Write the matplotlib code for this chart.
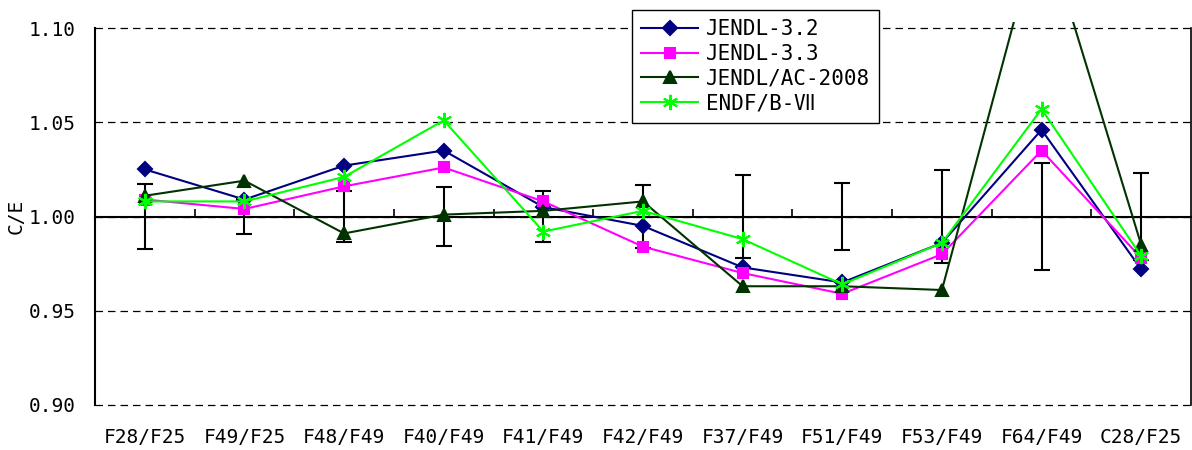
import matplotlib
matplotlib.use("Agg")
import matplotlib.pyplot as plt
import numpy as np
from matplotlib.patches import Rectangle
from matplotlib.ticker import FixedLocator, FormatStrFormatter

plt.rcParams['font.family'] = ['DejaVu Sans Mono', 'Noto Sans CJK JP']

# Reaction-rate ratios and C/E results for each library
ratios = ["F28/F25", "F49/F25", "F48/F49", "F40/F49", "F41/F49", "F42/F49",
          "F37/F49", "F51/F49", "F53/F49", "F64/F49", "C28/F25"]
jendl32 = [1.025, 1.009, 1.027, 1.035, 1.005, 0.995, 0.973, 0.965, 0.986, 1.046, 0.972]
jendl33 = [1.009, 1.004, 1.016, 1.026, 1.008, 0.984, 0.970, 0.959, 0.980, 1.035, 0.978]
jendl_ac = [1.011, 1.019, 0.991, 1.001, 1.003, 1.008, 0.963, 0.963, 0.961, 1.158, 0.985]
endf7 = [1.008, 1.008, 1.021, 1.051, 0.992, 1.003, 0.988, 0.964, 0.986, 1.057, 0.979]
# experimental uncertainty (1 sigma) around C/E = 1
exp_err = [0.0172, 0.0095, 0.0135, 0.0155, 0.0135, 0.0165, 0.022, 0.018, 0.0245, 0.0285, 0.023]

x = np.arange(len(ratios))
fs = 14

fig = plt.figure(figsize=(11.92, 4.5), dpi=100)
ax = fig.add_axes([95 / 1192, 45 / 450, 1096 / 1192, 377 / 450])

ax.errorbar(x, np.ones(len(x)), yerr=exp_err, fmt='none', ecolor='black',
            elinewidth=1.5, capsize=6, capthick=1.5, zorder=2)

series = [
    ("JENDL-3.2", jendl32, '#000080', 'D', 7),
    ("JENDL-3.3", jendl33, '#FF00FF', 's', 7.5),
    ("JENDL/AC-2008", jendl_ac, '#003300', '^', 8.5),
    ("ENDF/B-Ⅶ", endf7, '#00FF00', (6, 2, 0), 11),
]
# let lines run slightly past the top gridline like the original plot area
clip = Rectangle((0, 0), 1, 1.016, transform=ax.transAxes, visible=False)
ax.add_patch(clip)
for name, vals, color, marker, ms in series:
    line, = ax.plot(x, vals, color=color, marker=marker, markersize=ms,
                    lw=1.5, mew=1.5, label=name, zorder=3)
    line.set_clip_path(clip)

ax.set_xlim(-0.5, len(x) - 0.5)
ax.set_ylim(0.90, 1.10)
ax.yaxis.set_major_locator(FixedLocator([0.90, 0.95, 1.00, 1.05, 1.10]))
ax.yaxis.set_major_formatter(FormatStrFormatter('%.2f'))
ax.grid(axis='y', color='black', linestyle=(0, (6, 4)), lw=0.9)
for gl in ax.get_ygridlines():
    gl.set_clip_on(False)
ax.set_axisbelow(True)

# horizontal axis crosses at C/E = 1 with category-boundary ticks
ax.spines['top'].set_position(('data', 1.0))
ax.spines['top'].set_linewidth(1.5)
ax.spines['bottom'].set_visible(False)
ax.spines['left'].set_linewidth(1.5)
ax.spines['right'].set_linewidth(1.2)
ax.set_xticks(x)
ax.set_xticklabels(ratios)
ax.xaxis.set_minor_locator(FixedLocator(x[:-1] + 0.5))
ax.tick_params(axis='x', which='major', bottom=False, top=False, pad=13, labelsize=fs)
ax.tick_params(axis='x', which='minor', bottom=False, top=True, direction='out',
               length=6, width=1.2)
ax.tick_params(axis='y', length=0, pad=14, labelsize=fs)
ax.set_ylabel("C/E", fontsize=fs, labelpad=2)

leg = ax.legend(loc='upper left', bbox_to_anchor=(632 / 1192, 1 - 10 / 450),
                bbox_transform=fig.transFigure, borderaxespad=0, fontsize=15,
                fancybox=False, framealpha=1, edgecolor='black', handlelength=2.7,
                labelspacing=0.22, borderpad=0.45, handletextpad=0.4)
leg.get_frame().set_linewidth(1.0)
leg.set_zorder(5)

fig.savefig("out.png", dpi=100)
